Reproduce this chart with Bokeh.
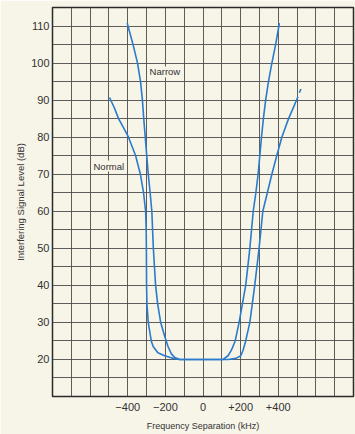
from bokeh.plotting import figure
from bokeh.models import FixedTicker, Label
from bokeh.embed import file_html
from bokeh.resources import INLINE

# ---- data ----
normal_x = [-497, -472, -449, -422, -396, -358, -333, -316, -305, -302, -301, -300, -298,
            -291, -275, -265, -240, -204, -160, -124, 0, 133, 175, 201, 213, 227, 249,
            275, 298, 318, 342, 366, 392, 419, 455, 505]
normal_y = [90.7, 88, 85, 82.5, 80, 75, 70, 65, 60, 55, 50, 40, 35,
            30, 25, 23.5, 21.8, 21, 20.3, 20, 20, 20, 20.3, 21, 22.5, 25, 30,
            40, 50, 60, 65, 70, 75, 80, 85, 90.9]
normal_tail_x = [512, 521]
normal_tail_y = [92.0, 93.0]

narrow_x = [-403, -388, -372, -348, -332, -322, -315, -307, -299, -291, -281, -272,
            -264, -252, -241, -225, -202, -186, -168, -150, -124, 0, 107, 133, 151,
            171, 192, 227, 249, 267, 281, 293, 302, 311, 321, 333, 348, 366, 386, 406]
narrow_y = [110.8, 108, 105, 100, 95, 90, 85, 80, 75, 70, 65, 60,
            50, 40, 35, 30, 26, 23.5, 21.5, 20.5, 20, 20, 20, 21, 22.5,
            25, 30, 40, 50, 60, 65, 70, 75, 80, 85, 90, 95, 100, 105, 110.8]

y_ticks = [20, 30, 40, 50, 60, 70, 80, 90, 100, 110]
x_ticks = [-400, -200, 0, 200, 400]
x_tick_labels = ["\u2212400", "\u2212200", "0", "+200", "+400"]
y_grid = list(range(10, 116, 5))
x_grid = list(range(-800, 801, 100))

curve_labels = ["Narrow", "Normal"]
curve_label_x = [-284, -582]
curve_label_y = [97.6, 72.2]

# ---- style ----
BG = "#f7f4e8"
GRID = "#4d4d4d"
BLUE = "#2b7bcc"
TXT = "#333333"
FONT = "Liberation Sans"

p = figure(width=355, height=434, x_range=(-800, 800), y_range=(10, 115),
           output_backend="svg", toolbar_location=None,
           min_border_left=52, min_border_right=2, min_border_top=7, min_border_bottom=38)
p.background_fill_color = BG
p.border_fill_color = BG
p.outline_line_color = "#2a2a2a"
p.outline_line_width = 1.5

p.xgrid.ticker = FixedTicker(ticks=x_grid)
p.ygrid.ticker = FixedTicker(ticks=y_grid)
for g in (p.xgrid, p.ygrid):
    g.grid_line_color = GRID
    g.grid_line_width = 1
    g.grid_line_alpha = 0.9

p.xaxis.ticker = FixedTicker(ticks=x_ticks)
p.xaxis.major_label_overrides = {t: l for t, l in zip(x_ticks, x_tick_labels)}
p.yaxis.ticker = FixedTicker(ticks=y_ticks)

for ax in (p.xaxis, p.yaxis):
    ax.axis_line_color = None
    ax.major_tick_line_color = None
    ax.minor_tick_line_color = None
    ax.major_tick_out = 0
    ax.major_tick_in = 0
    ax.major_label_text_font = FONT
    ax.major_label_text_font_size = "11px"
    ax.major_label_text_color = TXT
    ax.axis_label_text_font = FONT
    ax.axis_label_text_font_style = "normal"
    ax.axis_label_text_color = TXT

p.xaxis.axis_label = "Frequency Separation (kHz)"
p.yaxis.axis_label = "Interfering Signal Level (dB)"
p.xaxis.axis_label_text_font_size = "9px"
p.yaxis.axis_label_text_font_size = "9.5px"
p.xaxis.major_label_standoff = 6
p.yaxis.major_label_standoff = 3
p.xaxis.axis_label_standoff = 7
p.yaxis.axis_label_standoff = 2

p.line(normal_x, normal_y, line_color=BLUE, line_width=1.6)
p.line(normal_tail_x, normal_tail_y, line_color=BLUE, line_width=1.6)
p.line(narrow_x, narrow_y, line_color=BLUE, line_width=1.6)

for t, lx, ly in zip(curve_labels, curve_label_x, curve_label_y):
    p.add_layout(Label(x=lx, y=ly, text=t, text_font=FONT, text_font_size="9.5px",
                       text_color=TXT, text_baseline="middle", text_align="left",
                       background_fill_color=BG, background_fill_alpha=1.0))

open("out.html", "w").write(file_html(p, INLINE))
